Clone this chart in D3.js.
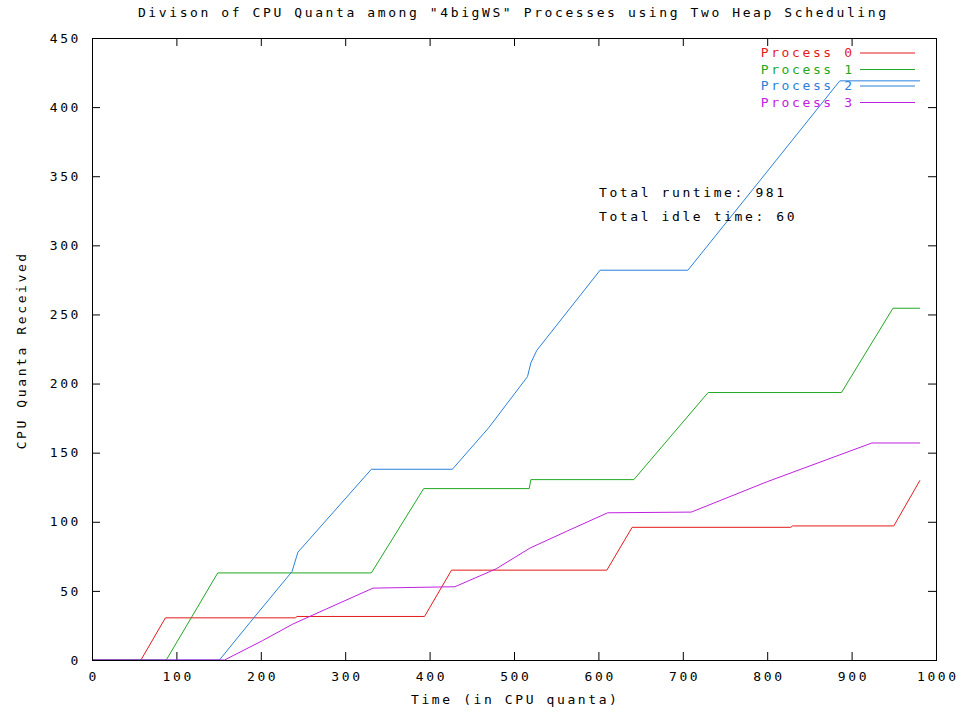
<!DOCTYPE html>
<html>
<head>
<meta charset="utf-8">
<script src="https://cdn.jsdelivr.net/npm/d3@7"></script>
<style>
  html, body { margin: 0; padding: 0; background: #fff; }
  svg text { font-family: "DejaVu Sans Mono", monospace; font-size: 13px; letter-spacing: 2.6px; fill: #000; }
</style>
</head>
<body>
<svg id="chart" width="966" height="712"></svg>
<script>
// values: [time, quanta received]
var process0 = [[0, 0], [58, 0], [87, 30.5], [241, 30.5], [243, 31.5], [394, 31.5], [426, 65],
    [610, 65], [640, 96], [828, 96], [830, 97], [950, 97], [981, 130]];
var process1 = [[0, 0], [88, 0], [149, 63], [331, 63], [393, 124], [518, 124], [520, 130.5],
    [642, 130.5], [730, 193.5], [888, 193.5], [949, 254.5], [981, 254.5]];
var process2 = [[0, 0], [151, 0], [191, 30], [237, 64], [244, 78], [331, 138], [427, 138],
    [470, 168], [516, 205], [520, 215], [527, 224], [602, 282], [706, 282], [785, 342],
    [886, 419], [981, 419]];
var process3 = [[0, 0], [157, 0], [202, 14], [238, 26], [278, 37], [333, 52], [430, 53],
    [479, 66], [519, 81], [562, 93], [611, 106.5], [710, 107], [800, 129], [924, 157], [981, 157]];

var seriesNames = ["Process 0", "Process 1", "Process 2", "Process 3"];
var seriesData = [process0, process1, process2, process3];
var seriesColors = ["#e41a1a", "#22a822", "#2a80dc", "#c020e0"];

var xTicks = [0, 100, 200, 300, 400, 500, 600, 700, 800, 900, 1000];
var yTicks = [0, 50, 100, 150, 200, 250, 300, 350, 400, 450];

var titleText = "Divison of CPU Quanta among \"4bigWS\" Processes using Two Heap Scheduling";
var xLabel = "Time (in CPU quanta)";
var yLabel = "CPU Quanta Received";
var notes = ["Total runtime: 981", "Total idle time: 60"];

(function () {
    var svg = d3.select("#chart");
    var ls = 2.6; // letter spacing, trailing space shifts anchored text

    var plot = { left: 92, right: 936, top: 38, bottom: 660 };
    var xScale = d3.scaleLinear().domain([0, 1000]).range([plot.left, plot.right]);
    var yScale = d3.scaleLinear().domain([0, 450]).range([plot.bottom, plot.top]);

    // axes: ticks point inward, mirrored on top / right
    var xAxis = d3.axisBottom(xScale).tickValues(xTicks).tickFormat(d3.format("d"))
        .tickSizeInner(-8).tickSizeOuter(0).tickPadding(12);
    var yAxis = d3.axisLeft(yScale).tickValues(yTicks).tickFormat(d3.format("d"))
        .tickSizeInner(-8).tickSizeOuter(0).tickPadding(11);
    var xTop = d3.axisTop(xScale).tickValues(xTicks).tickSizeInner(-8).tickSizeOuter(0).tickFormat("");
    var yRight = d3.axisRight(yScale).tickValues(yTicks).tickSizeInner(-8).tickSizeOuter(0).tickFormat("");

    function styleAxis(g) {
        g.select(".domain").remove();
        g.selectAll("line").attr("stroke", "#000");
        g.selectAll("text").attr("font-family", null).attr("font-size", null).attr("fill", "#000");
    }

    svg.append("g").attr("transform", "translate(0," + plot.bottom + ")").call(xAxis).call(styleAxis)
        .selectAll("text").attr("dx", ls / 2);
    svg.append("g").attr("transform", "translate(" + plot.left + ",0)").call(yAxis).call(styleAxis);
    svg.append("g").attr("transform", "translate(0," + plot.top + ")").call(xTop).call(styleAxis);
    svg.append("g").attr("transform", "translate(" + plot.right + ",0)").call(yRight).call(styleAxis);

    var line = d3.line()
        .x(function (d) { return xScale(d[0]); })
        .y(function (d) { return yScale(d[1]); });

    seriesData.forEach(function (data, i) {
        svg.append("path")
            .datum(data)
            .attr("fill", "none")
            .attr("stroke", seriesColors[i])
            .attr("stroke-width", 1)
            .attr("d", line);
    });

    // frame
    svg.append("rect")
        .attr("x", plot.left + 0.5).attr("y", plot.top + 0.5)
        .attr("width", plot.right - plot.left).attr("height", plot.bottom - plot.top)
        .attr("fill", "none").attr("stroke", "#000").attr("stroke-width", 1);

    // legend
    var legend = svg.append("g");
    seriesNames.forEach(function (name, i) {
        var cy = 52.5 + i * 16.5;
        legend.append("text")
            .attr("x", 852 + ls).attr("y", cy + 4.7)
            .attr("text-anchor", "end")
            .style("fill", seriesColors[i])
            .text(name);
        legend.append("line")
            .attr("x1", 860).attr("x2", 915)
            .attr("y1", cy + 0.5).attr("y2", cy + 0.5)
            .attr("stroke", seriesColors[i]);
    });

    // annotations
    notes.forEach(function (t, i) {
        svg.append("text").attr("x", 599).attr("y", 196.5 + i * 24.5).text(t);
    });

    // titles
    svg.append("text").attr("x", 512 + ls / 2).attr("y", 17).attr("text-anchor", "middle").text(titleText);
    svg.append("text").attr("x", 514 + ls / 2).attr("y", 704).attr("text-anchor", "middle").text(xLabel);
    svg.append("text")
        .attr("transform", "translate(26," + (349 + ls / 2) + ") rotate(-90)")
        .attr("text-anchor", "middle")
        .text(yLabel);
})();
</script>
</body>
</html>
